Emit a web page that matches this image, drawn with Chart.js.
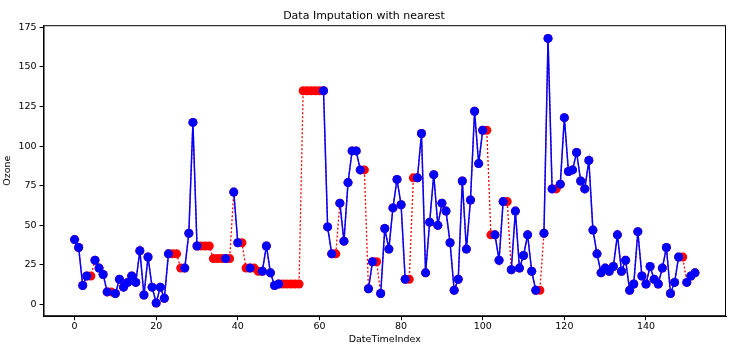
<!DOCTYPE html>
<html>
<head>
<meta charset="utf-8">
<script src="https://cdn.jsdelivr.net/npm/chart.js@4.4.0/dist/chart.umd.min.js"></script>
<style>
html,body{margin:0;padding:0;background:#fff;}
#wrap{width:736px;height:353px;}
</style>
</head>
<body>
<div id="wrap"><canvas id="c" width="736" height="353"></canvas></div>
<script>
// original Ozone readings, null where missing
const ozone=[41,36,12,18,null,28,23,19,8,null,7,16,11,14,18,14,34,6,30,11,1,11,4,32,null,null,null,23,45,115,37,null,null,null,null,null,null,29,null,71,39,null,null,23,null,null,21,37,20,12,13,null,null,null,null,null,null,null,null,null,null,135,49,32,null,64,40,77,97,97,85,null,10,27,null,7,48,35,61,79,63,16,null,null,80,108,20,52,82,50,64,59,39,9,16,78,35,66,122,89,110,null,null,44,28,65,null,22,59,23,31,44,21,9,null,45,168,73,null,76,118,84,85,96,78,73,91,47,32,20,23,21,24,44,21,28,9,13,46,18,13,24,16,13,23,36,7,14,30,null,14,18,20];
// filled series (nearest)
const filled=[41,36,12,18,18,28,23,19,8,8,7,16,11,14,18,14,34,6,30,11,1,11,4,32,32,32,23,23,45,115,37,37,37,37,29,29,29,29,29,71,39,39,23,23,23,21,21,37,20,12,13,13,13,13,13,13,135,135,135,135,135,135,49,32,32,64,40,77,97,97,85,85,10,27,27,7,48,35,61,79,63,16,16,80,80,108,20,52,82,50,64,59,39,9,16,78,35,66,122,89,110,110,44,44,28,65,65,22,59,23,31,44,21,9,9,45,168,73,73,76,118,84,85,96,78,73,91,47,32,20,23,21,24,44,21,28,9,13,46,18,13,24,16,13,23,36,7,14,30,30,14,18,20];
const xTicks=[0,20,40,60,80,100,120,140];
const yTicks=[0,25,50,75,100,125,150,175];

const fnt='DejaVu Sans';
const boxPlugin={
  id:'box',
  afterDraw(chart){
    const a=chart.chartArea, ctx=chart.ctx;
    ctx.save();
    ctx.strokeStyle='#000';
    ctx.lineWidth=1;
    ctx.strokeRect(a.left+0.5,a.top+0.5,a.right-a.left-1,a.bottom-a.top-1);
    ctx.restore();
  }
};

new Chart(document.getElementById('c'),{
  type:'line',
  data:{
    datasets:[
      {
        data:ozone.map((v,i)=>({x:i,y:v})),
        borderColor:'#0000ff',
        backgroundColor:'#0000ff',
        borderWidth:1.5,
        pointRadius:4.5,
        pointBorderWidth:0,
        pointHoverRadius:4.5,
        spanGaps:false,
        order:1
      },
      {
        data:filled.map((v,i)=>({x:i,y:v})),
        borderColor:'#ff0000',
        backgroundColor:'#ff0000',
        borderWidth:1.3,
        borderDash:[2,2],
        pointRadius:4.5,
        pointBorderWidth:0,
        pointHoverRadius:4.5,
        order:2
      }
    ]
  },
  options:{
    responsive:false,
    animation:false,
    layout:{padding:{left:2,right:10,top:0,bottom:8}},
    plugins:{
      legend:{display:false},
      tooltip:{enabled:false},
      title:{display:true,text:'Data Imputation with nearest',color:'#000',font:{family:fnt,size:11,weight:'normal'},padding:{top:10,bottom:2}}
    },
    scales:{
      x:{
        type:'linear',
        min:-7.6,max:159.6,
        afterBuildTicks(s){s.ticks=xTicks.map(v=>({value:v}));},
        grid:{drawOnChartArea:false,color:'#000',tickLength:4},
        border:{display:true,color:'#000'},
        ticks:{color:'#000',font:{family:fnt,size:9.5},padding:1,maxRotation:0},
        title:{display:true,text:'DateTimeIndex',color:'#000',font:{family:fnt,size:9.5},padding:{top:0,bottom:0}}
      },
      y:{
        min:-7.35,max:176.35,
        afterBuildTicks(s){s.ticks=yTicks.map(v=>({value:v}));},
        grid:{drawOnChartArea:false,color:'#000',tickLength:4},
        border:{display:true,color:'#000'},
        ticks:{color:'#000',font:{family:fnt,size:9.5},padding:3},
        title:{display:true,text:'Ozone',color:'#000',font:{family:fnt,size:9.5},padding:{top:0,bottom:2}}
      }
    }
  },
  plugins:[boxPlugin]
});
</script>
</body>
</html>
